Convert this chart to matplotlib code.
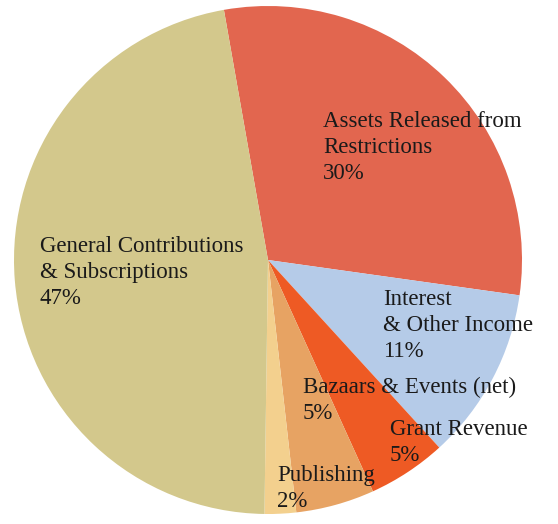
import matplotlib.pyplot as plt

# Revenue breakdown (percent)
labels = ["Assets Released from\nRestrictions", "Interest\n& Other Income", "Grant Revenue",
          "Bazaars & Events (net)", "Publishing", "General Contributions\n& Subscriptions"]
shares = [30, 11, 5, 5, 2, 47]
colors = ["#E2664F", "#B5CBE8", "#EE5A24", "#E7A363", "#F3D08E", "#D3C88C"]

W, H = 558, 524
fig = plt.figure(figsize=(W / 100, H / 100), dpi=100)
ax = fig.add_axes([0, 0, 1, 1])

ax.pie(shares, colors=colors, startangle=100, counterclock=False,
       center=(268, H - 260), radius=254, frame=True,
       wedgeprops=dict(linewidth=0))
ax.set_xlim(0, W)
ax.set_ylim(0, H)
ax.set_aspect("equal")
ax.axis("off")

# label anchors (left x, top-line y) in pixels from top-left
label_pos = [(323, 111), (383, 289), (390, 419), (303, 377), (277, 465), (40, 236)]
for lab, pct, (x, y) in zip(labels, shares, label_pos):
    ax.text(x, H - y, f"{lab}\n{pct}%", ha="left", va="top",
            fontsize=16.5, family="Liberation Serif", color="#1a1a1a",
            linespacing=1.3)

fig.savefig("out.png", dpi=100)
